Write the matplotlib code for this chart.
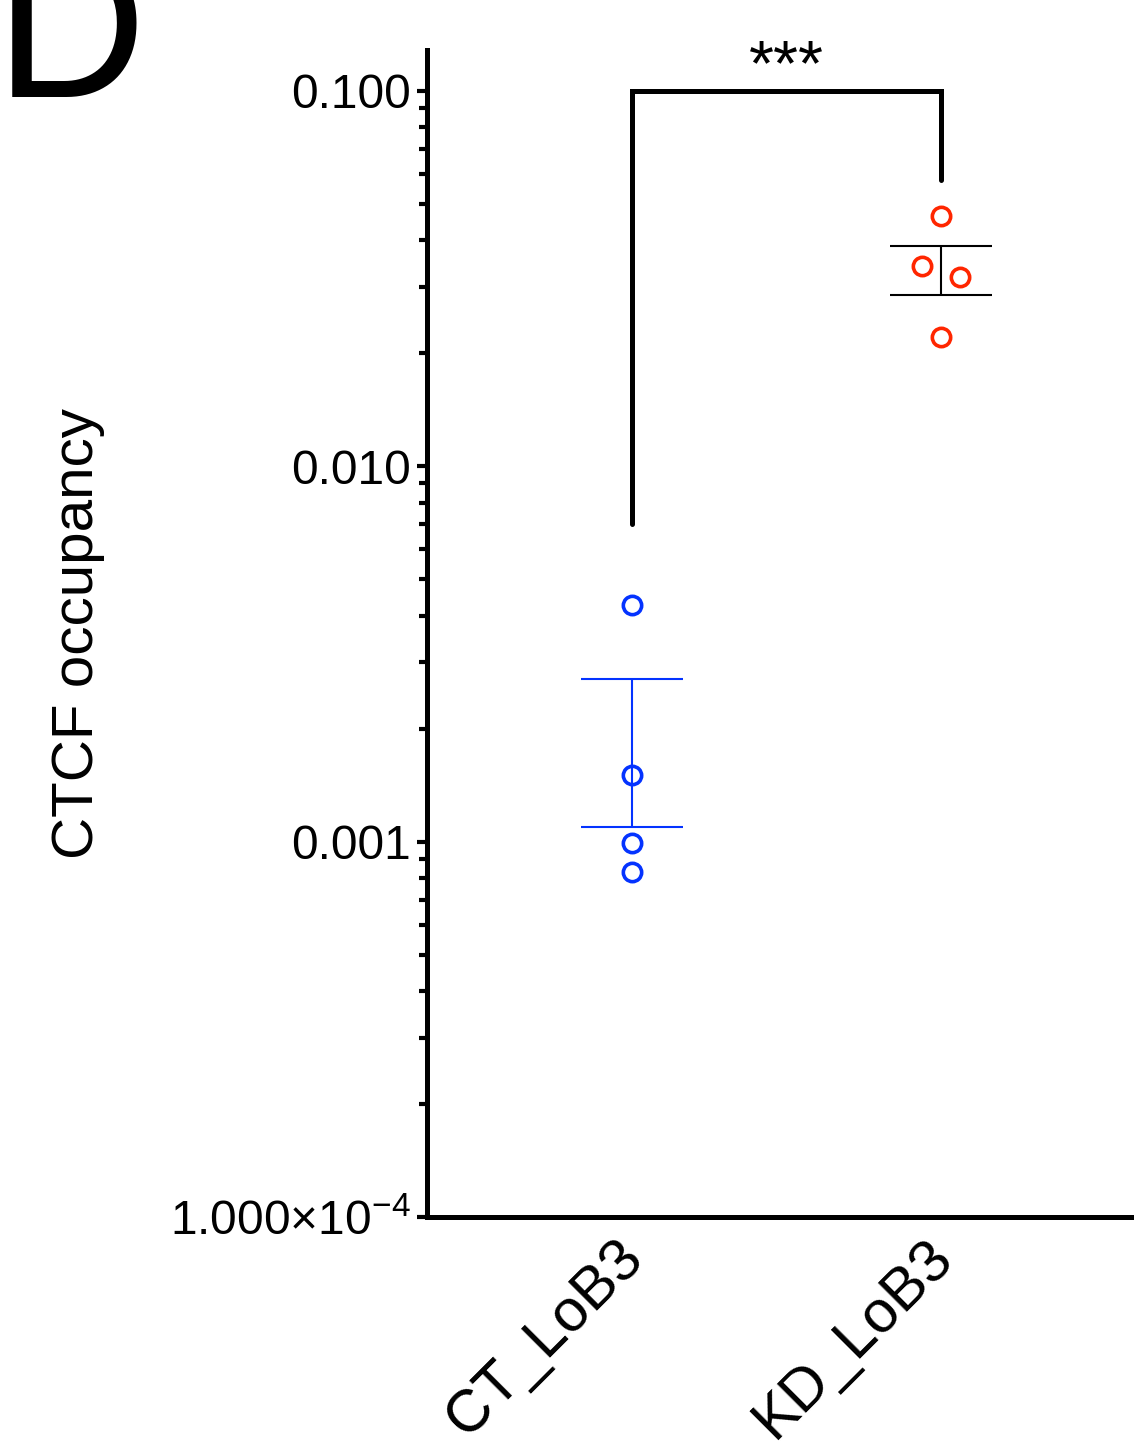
import numpy as np
import matplotlib
matplotlib.use("Agg")
import matplotlib.pyplot as plt
from matplotlib.ticker import FixedLocator, FixedFormatter, LogLocator, NullFormatter
from matplotlib.transforms import ScaledTranslation

plt.rcParams['font.family'] = ['Liberation Sans', 'DejaVu Sans']
plt.rcParams['mathtext.fontset'] = 'custom'
plt.rcParams['mathtext.rm'] = 'Liberation Sans'
plt.rcParams['mathtext.default'] = 'regular'

# data
groups = ["CT_LoB3", "KD_LoB3"]
ct_vals = [0.00428, 0.00150, 0.00099, 0.00083]
kd_vals = [0.0464, 0.0341, 0.0319, 0.0221]
kd_jitter = [0.0, -0.062, 0.061, 0.0]
colors = ['#0433FF', '#FF2600']

ytick_vals = [1e-4, 1e-3, 1e-2, 1e-1]
ytick_labels = ["1.000×10$^{-4}$", "0.001", "0.010", "0.100"]

# significance bracket
bracket_top = 0.100
bracket_left_end = 0.0070
bracket_right_end = 0.058
sig_label = "***"

fig = plt.figure(figsize=(11.34, 14.48), dpi=100)
ax = fig.add_axes([427/1134, (1448-1217)/1448, (1134-427)/1134, (1217-50)/1448])

series = [(ct_vals, [0.0]*len(ct_vals)), (kd_vals, kd_jitter)]
for i, ((vals, jit), c) in enumerate(zip(series, colors)):
    vals = np.array(vals)
    m = vals.mean()
    sem = vals.std(ddof=1) / np.sqrt(len(vals))
    ax.errorbar([i], [m], yerr=[[sem], [sem]], fmt='none', ecolor=c if i == 0 else 'black',
                elinewidth=1.5, capsize=37, capthick=1.5, zorder=2)
    ax.plot(i + np.array(jit), vals, 'o', ms=13.2, mfc='none', mec=c, mew=2.6, zorder=3)

ax.plot([0, 0, 1, 1], [bracket_left_end, bracket_top, bracket_top, bracket_right_end],
        color='black', lw=3.6, solid_capstyle='round', solid_joinstyle='miter', zorder=4)
ax.text(0.5, 0.1035, sig_label, ha='center', va='baseline', fontsize=46)

ax.set_yscale('log')
ax.set_ylim(1e-4, 10**(-1 + 40.7/375))
ax.set_xlim(-0.6634, 1.6246)

ax.yaxis.set_major_locator(FixedLocator(ytick_vals))
ax.yaxis.set_major_formatter(FixedFormatter(ytick_labels))
ax.yaxis.set_minor_locator(LogLocator(base=10, subs=np.arange(2, 10)))
ax.yaxis.set_minor_formatter(NullFormatter())

for side in ['top', 'right']:
    ax.spines[side].set_visible(False)
for side in ['left', 'bottom']:
    ax.spines[side].set_linewidth(3.6)

ax.tick_params(axis='y', which='major', length=7.5, width=3, labelsize=34.5, pad=4)
ax.tick_params(axis='y', which='minor', length=5.5, width=3)
ax.tick_params(axis='x', length=0, labelsize=43, pad=9)

ax.set_xticks(range(len(groups)))
ax.set_xticklabels(groups, rotation=45, ha='right', va='top', rotation_mode='anchor')
# nudge the rotated labels left a little
shift = ScaledTranslation(-0.17, 0, fig.dpi_scale_trans)
for lbl in ax.get_xticklabels():
    lbl.set_transform(lbl.get_transform() + shift)

ax.set_ylabel("CTCF occupancy", fontsize=42)
ax.yaxis.set_label_coords(-0.455, 0.5)

fig.text(-5/1134, 1 - 97/1448, "D", fontsize=151, ha='left', va='baseline')

fig.savefig("out.png", dpi=100)
